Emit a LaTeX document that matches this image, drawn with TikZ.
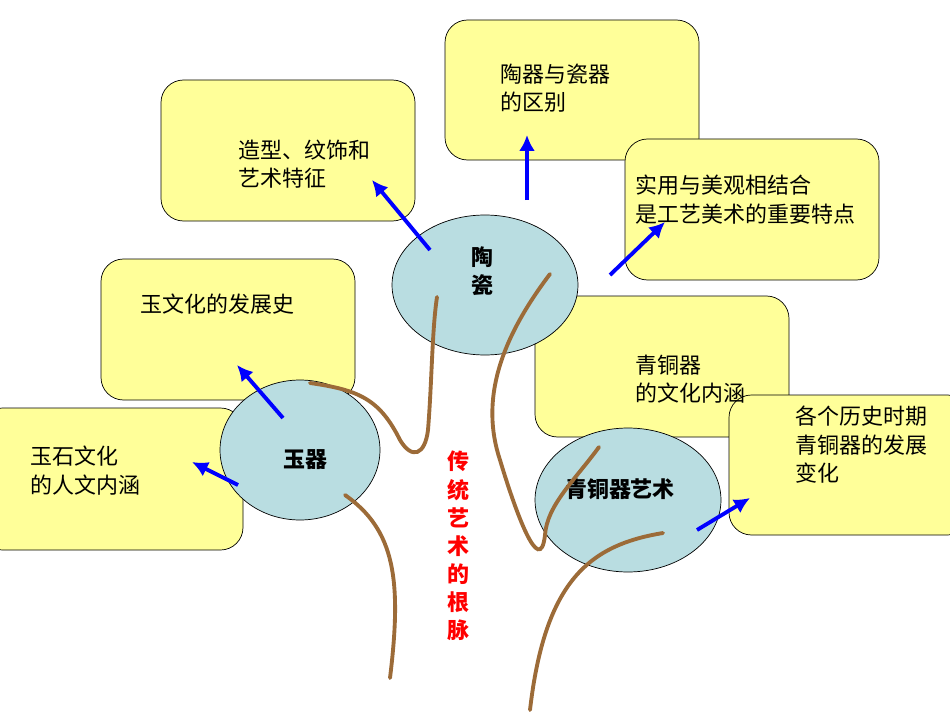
\documentclass[tikz,border=0pt]{standalone}
\usepackage{fontspec}
\setmainfont{Noto Sans CJK SC}
\usetikzlibrary{arrows.meta,shapes.geometric}
\definecolor{by}{HTML}{FFFF99}
\definecolor{bl}{HTML}{B9DDE1}
\definecolor{vn}{HTML}{9C6B38}
\begin{document}
\begin{tikzpicture}[x=0.02cm,y=-0.02cm,
 ybox/.style={draw=black,fill=by,rounded corners=0.45cm},
 ell/.style={draw=black,fill=bl,ellipse},
 txt/.style={anchor=north west,align=left,font=\fontsize{12.5pt}{16pt}\selectfont,inner sep=0},
 etxt/.style={align=center,font=\bfseries\fontsize{12.5pt}{16pt}\selectfont,inner sep=0},
 barr/.style={draw=blue,line width=2.2pt,-{Latex[length=9pt,width=9pt]}},
 vine/.style={draw=vn,line width=2.2pt,line cap=round}]
\useasboundingbox (0,0) rectangle (950,713);
\path[ybox] (161,80) rectangle (415,221);
\node[txt] (t1) at (238,140) {造型、纹饰和\\艺术特征};
\path[ybox] (445,20) rectangle (699,160);
\node[txt] (t2) at (500,64) {陶器与瓷器\\的区别};
\path[ybox] (625,139) rectangle (879,280);
\node[txt] (t3) at (635,175) {实用与美观相结合\\是工艺美术的重要特点};
\path[ybox] (101,259) rectangle (355,400);
\node[txt] (t4) at (140,294) {玉文化的发展史};
\path[ybox] (-20,408) rectangle (243,550);
\node[txt] (t5) at (30,446) {玉石文化\\的人文内涵};
\path[ybox] (535,296) rectangle (789,437);
\path[ybox] (729,395) rectangle (970,535);
\node[txt] (t6) at (635,355) {青铜器\\的文化内涵};
\node[txt] (t7) at (795,406) {各个历史时期\\青铜器的发展\\变化};
\node[ell,minimum width=3.72cm,minimum height=2.8cm] (e1) at (485,285) {};
\node[etxt] at (482,271) {陶\\瓷};
\node[ell,minimum width=3.2cm,minimum height=2.8cm] (e2) at (300,450) {};
\node[etxt] at (305,460) {玉器};
\node[ell,minimum width=3.72cm,minimum height=2.88cm] (e3) at (628,500) {};
\node[etxt] at (620,489) {青铜器艺术};
\node[red,font=\bfseries\fontsize{12.5pt}{16pt}\selectfont,align=center,inner sep=0] (rt) at (458,546) {传\\统\\艺\\术\\的\\根\\脉};
\coordinate (a1s) at (430,250); \coordinate (a1e) at (372,180);
\coordinate (a2s) at (527,200); \coordinate (a2e) at (527,135);
\coordinate (a3s) at (610,275); \coordinate (a3e) at (665,222);
\coordinate (a4s) at (283,418); \coordinate (a4e) at (237,365);
\coordinate (a5s) at (238,485); \coordinate (a5e) at (192,462);
\coordinate (a6s) at (697,530); \coordinate (a6e) at (750,498);
\foreach \i in {1,...,6} {\draw[barr] (a\i s) -- (a\i e);}
\draw[vine] (310,383) .. controls (360,390) and (380,400) .. (400,440) .. controls (412,460) and (425,455) .. (428,430) .. controls (432,380) and (432,330) .. (437,297);
\draw[vine] (345,495) .. controls (395,530) and (402,580) .. (390,678);
\draw[vine] (550,274) .. controls (500,340) and (480,400) .. (500,460) .. controls (515,510) and (540,580) .. (545,535) .. controls (547,505) and (575,480) .. (599,447);
\draw[vine] (663,533) .. controls (590,545) and (545,580) .. (530,710);
\end{tikzpicture}
\end{document}
